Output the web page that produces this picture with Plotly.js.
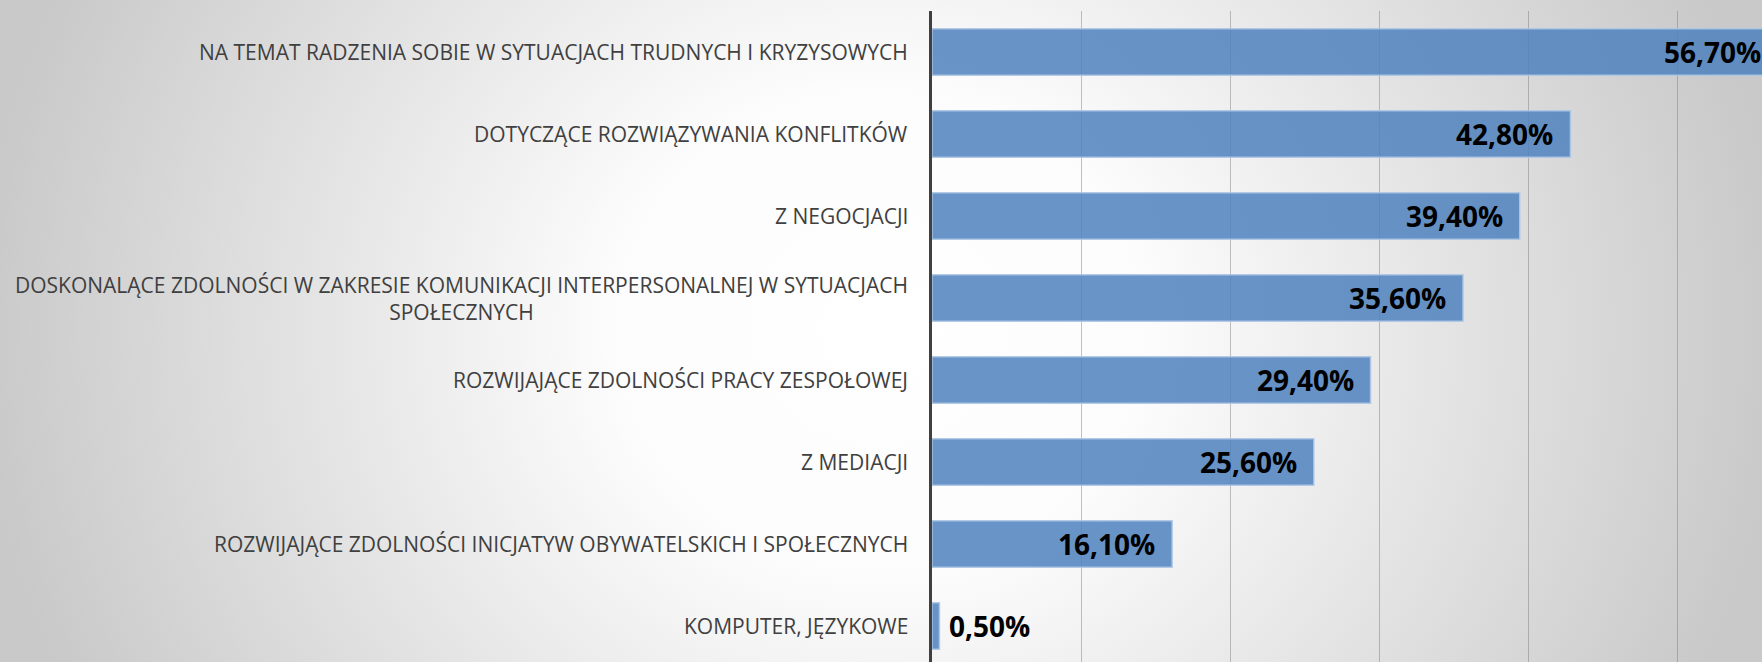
<!DOCTYPE html>
<html>
<head>
<meta charset="utf-8">
<script src="https://cdn.plot.ly/plotly-3.0.1.min.js"></script>
<style>
  html, body { margin: 0; padding: 0; overflow: hidden; width: 1762px; height: 662px; }
  body { background: radial-gradient(ellipse 900px 820px at 880px 330px, #ffffff 0%, #fcfcfc 30%, #c9c9c9 100%); }
  #chart { width: 1830px; height: 670px; }
</style>
</head>
<body>
<div id="chart"></div>
<script>
const categories = [
  "NA TEMAT RADZENIA SOBIE W SYTUACJACH TRUDNYCH I KRYZYSOWYCH",
  "DOTYCZĄCE ROZWIĄZYWANIA KONFLITKÓW",
  "Z NEGOCJACJI",
  "DOSKONALĄCE ZDOLNOŚCI W ZAKRESIE KOMUNIKACJI INTERPERSONALNEJ W SYTUACJACH<br>SPOŁECZNYCH",
  "ROZWIJAJĄCE ZDOLNOŚCI PRACY ZESPOŁOWEJ",
  "Z MEDIACJI",
  "ROZWIJAJĄCE ZDOLNOŚCI INICJATYW OBYWATELSKICH I SPOŁECZNYCH",
  "KOMPUTER, JĘZYKOWE"
];
const values = [56.7, 42.8, 39.4, 35.6, 29.4, 25.6, 16.1, 0.5];
const valueLabels = ["56,70%", "42,80%", "39,40%", "35,60%", "29,40%", "25,60%", "16,10%", "0,50%"];

const trace = {
  type: "bar",
  orientation: "h",
  y: categories,
  x: values,
  marker: {
    color: "rgba(79,129,189,0.85)",
    line: { color: "rgba(175,200,230,0.9)", width: 1.5 }
  },
  hoverinfo: "none"
};

const annotations = [];
categories.forEach((c, i) => {
  annotations.push({
    x: 0, xref: "x", y: c, yref: "y",
    text: c, showarrow: false,
    xanchor: "right", yanchor: "middle", align: "center",
    xshift: -22,
    font: { family: "Open Sans, sans-serif", size: 21, color: "#404040" }
  });
  const inside = values[i] >= 8;
  annotations.push({
    x: values[i], xref: "x", y: c, yref: "y",
    text: valueLabels[i], showarrow: false,
    xanchor: inside ? "right" : "left", yanchor: "middle",
    xshift: inside ? -15 : 8,
    font: { family: "Open Sans, sans-serif", size: 28, color: "#000000", weight: "bold" }
  });
});

const layout = {
  width: 1830,
  height: 670,
  margin: { l: 932, r: 3, t: 11, b: 3 },
  paper_bgcolor: "rgba(0,0,0,0)",
  plot_bgcolor: "rgba(0,0,0,0)",
  showlegend: false,
  bargap: 0.43,
  xaxis: {
    range: [0, 60],
    dtick: 10,
    showgrid: true,
    gridcolor: "rgba(120,120,120,0.45)",
    gridwidth: 1.3,
    zeroline: false,
    showticklabels: false,
    showline: false,
    fixedrange: true
  },
  yaxis: {
    autorange: "reversed",
    showticklabels: false,
    showgrid: false,
    zeroline: false,
    showline: true,
    linecolor: "#404040",
    linewidth: 3.5,
    ticks: "",
    fixedrange: true
  },
  annotations: annotations
};

Plotly.newPlot("chart", [trace], layout, { displayModeBar: false, staticPlot: true });
</script>
</body>
</html>
